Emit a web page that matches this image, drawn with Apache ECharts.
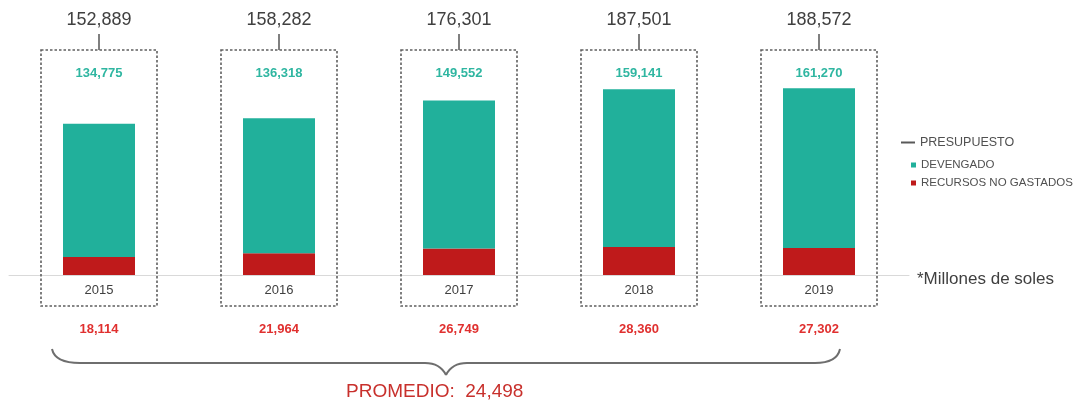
<!DOCTYPE html>
<html>
<head>
<meta charset="utf-8">
<script src="https://cdn.jsdelivr.net/npm/echarts@6/dist/echarts.min.js"></script>
<style>
  html, body { margin: 0; padding: 0; background: #fff; }
  #main { width: 1076px; height: 405px; }
</style>
</head>
<body>
<div id="main"></div>
<script>
// datos (millones de soles)
var years = ['2015', '2016', '2017', '2018', '2019'];
var presupuesto = [152889, 158282, 176301, 187501, 188572];
var devengado = [134775, 136318, 149552, 159141, 161270];
var noGastado = [18114, 21964, 26749, 28360, 27302];
var promedio = 24498;

function fmt(n) {
    return String(n).replace(/\B(?=(\d{3})+(?!\d))/g, ',');
}

var FONT = '"Liberation Sans", Arial, sans-serif';

// caja punteada + etiquetas de cada año
function renderCaja(params, api) {
    var i = api.value(0);
    var p = api.coord([i, 0]);
    var cx = p[0], base = p[1];
    return {
        type: 'group',
        children: [
            {
                type: 'rect',
                shape: { x: cx - 58, y: base - 225, width: 116, height: 256 },
                style: { fill: 'none', stroke: '#5f5f5f', lineWidth: 1.6, lineDash: [2.5, 2] }
            },
            {
                type: 'line',
                shape: { x1: cx, y1: base - 241, x2: cx, y2: base - 225 },
                style: { stroke: '#5f5f5f', lineWidth: 1.6 }
            },
            {
                type: 'text', x: cx, y: base - 255,
                style: { text: fmt(api.value(1)), align: 'center', verticalAlign: 'middle',
                         fill: '#404040', fontSize: 18, fontFamily: FONT }
            },
            {
                type: 'text', x: cx, y: base - 202,
                style: { text: fmt(api.value(2)), align: 'center', verticalAlign: 'middle',
                         fill: '#2fb6a1', fontSize: 13, fontWeight: 'bold', fontFamily: FONT }
            },
            {
                type: 'text', x: cx, y: base + 54,
                style: { text: fmt(api.value(3)), align: 'center', verticalAlign: 'middle',
                         fill: '#e0302f', fontSize: 13, fontWeight: 'bold', fontFamily: FONT }
            }
        ]
    };
}

var cajas = [];
for (var i = 0; i < years.length; i++) {
    cajas.push([i, presupuesto[i], devengado[i], noGastado[i]]);
}

var llaveStyle = { fill: 'none', stroke: '#6e6e6e', lineWidth: 2 };

var myChart = echarts.init(document.getElementById('main'));

var option = {
    animation: false,
    backgroundColor: '#ffffff',
    grid: { left: 9, right: 167, top: 77, bottom: 130 },
    legend: [
        {
            data: ['PRESUPUESTO'],
            orient: 'vertical',
            left: 896, top: 131,
            icon: 'rect',
            itemWidth: 14, itemHeight: 2,
            textStyle: { color: '#505050', fontSize: 12.5, fontFamily: FONT }
        },
        {
            data: ['DEVENGADO', 'RECURSOS NO GASTADOS'],
            orient: 'vertical',
            left: 906, top: 154,
            icon: 'rect',
            itemWidth: 5, itemHeight: 5,
            itemGap: 6,
            textStyle: { color: '#505050', fontSize: 11.5, fontFamily: FONT }
        }
    ],
    xAxis: {
        type: 'category',
        data: years,
        axisLine: { lineStyle: { color: '#d9d9d9', width: 1 } },
        axisTick: { show: false },
        axisLabel: { color: '#404040', fontSize: 13, margin: 9, fontFamily: FONT }
    },
    yAxis: {
        type: 'value',
        min: 0,
        max: 200000,
        show: false
    },
    series: [
        {
            name: 'RECURSOS NO GASTADOS',
            type: 'bar',
            stack: 'total',
            barWidth: 72,
            itemStyle: { color: '#bf1a1b' },
            data: noGastado
        },
        {
            name: 'DEVENGADO',
            type: 'bar',
            stack: 'total',
            barWidth: 72,
            itemStyle: { color: '#21b09b' },
            data: devengado
        },
        {
            name: 'PRESUPUESTO',
            type: 'custom',
            clip: false,
            itemStyle: { color: '#595959' },
            encode: { x: 0, y: 1 },
            renderItem: renderCaja,
            data: cajas,
            z: 1
        }
    ],
    graphic: [
        {
            type: 'text', left: 917, top: 271,
            style: { text: '*Millones de soles', fill: '#404040', fontSize: 17, fontFamily: FONT }
        },
        // llave
        { type: 'bezierCurve', shape: { x1: 52, y1: 349, cpx1: 55, cpy1: 363, x2: 80, y2: 363 }, style: llaveStyle },
        { type: 'line', shape: { x1: 80, y1: 363, x2: 425, y2: 363 }, style: llaveStyle },
        { type: 'bezierCurve', shape: { x1: 425, y1: 363, cpx1: 440, cpy1: 363, x2: 446, y2: 375 }, style: llaveStyle },
        { type: 'bezierCurve', shape: { x1: 446, y1: 375, cpx1: 452, cpy1: 363, x2: 467, y2: 363 }, style: llaveStyle },
        { type: 'line', shape: { x1: 467, y1: 363, x2: 815, y2: 363 }, style: llaveStyle },
        { type: 'bezierCurve', shape: { x1: 815, y1: 363, cpx1: 837, cpy1: 363, x2: 840, y2: 349 }, style: llaveStyle },
        {
            type: 'text', left: 346, top: 382,
            style: { text: 'PROMEDIO:  ' + fmt(promedio), fill: '#c8302c', fontSize: 19, fontFamily: FONT }
        }
    ]
};

myChart.setOption(option);
</script>
</body>
</html>
